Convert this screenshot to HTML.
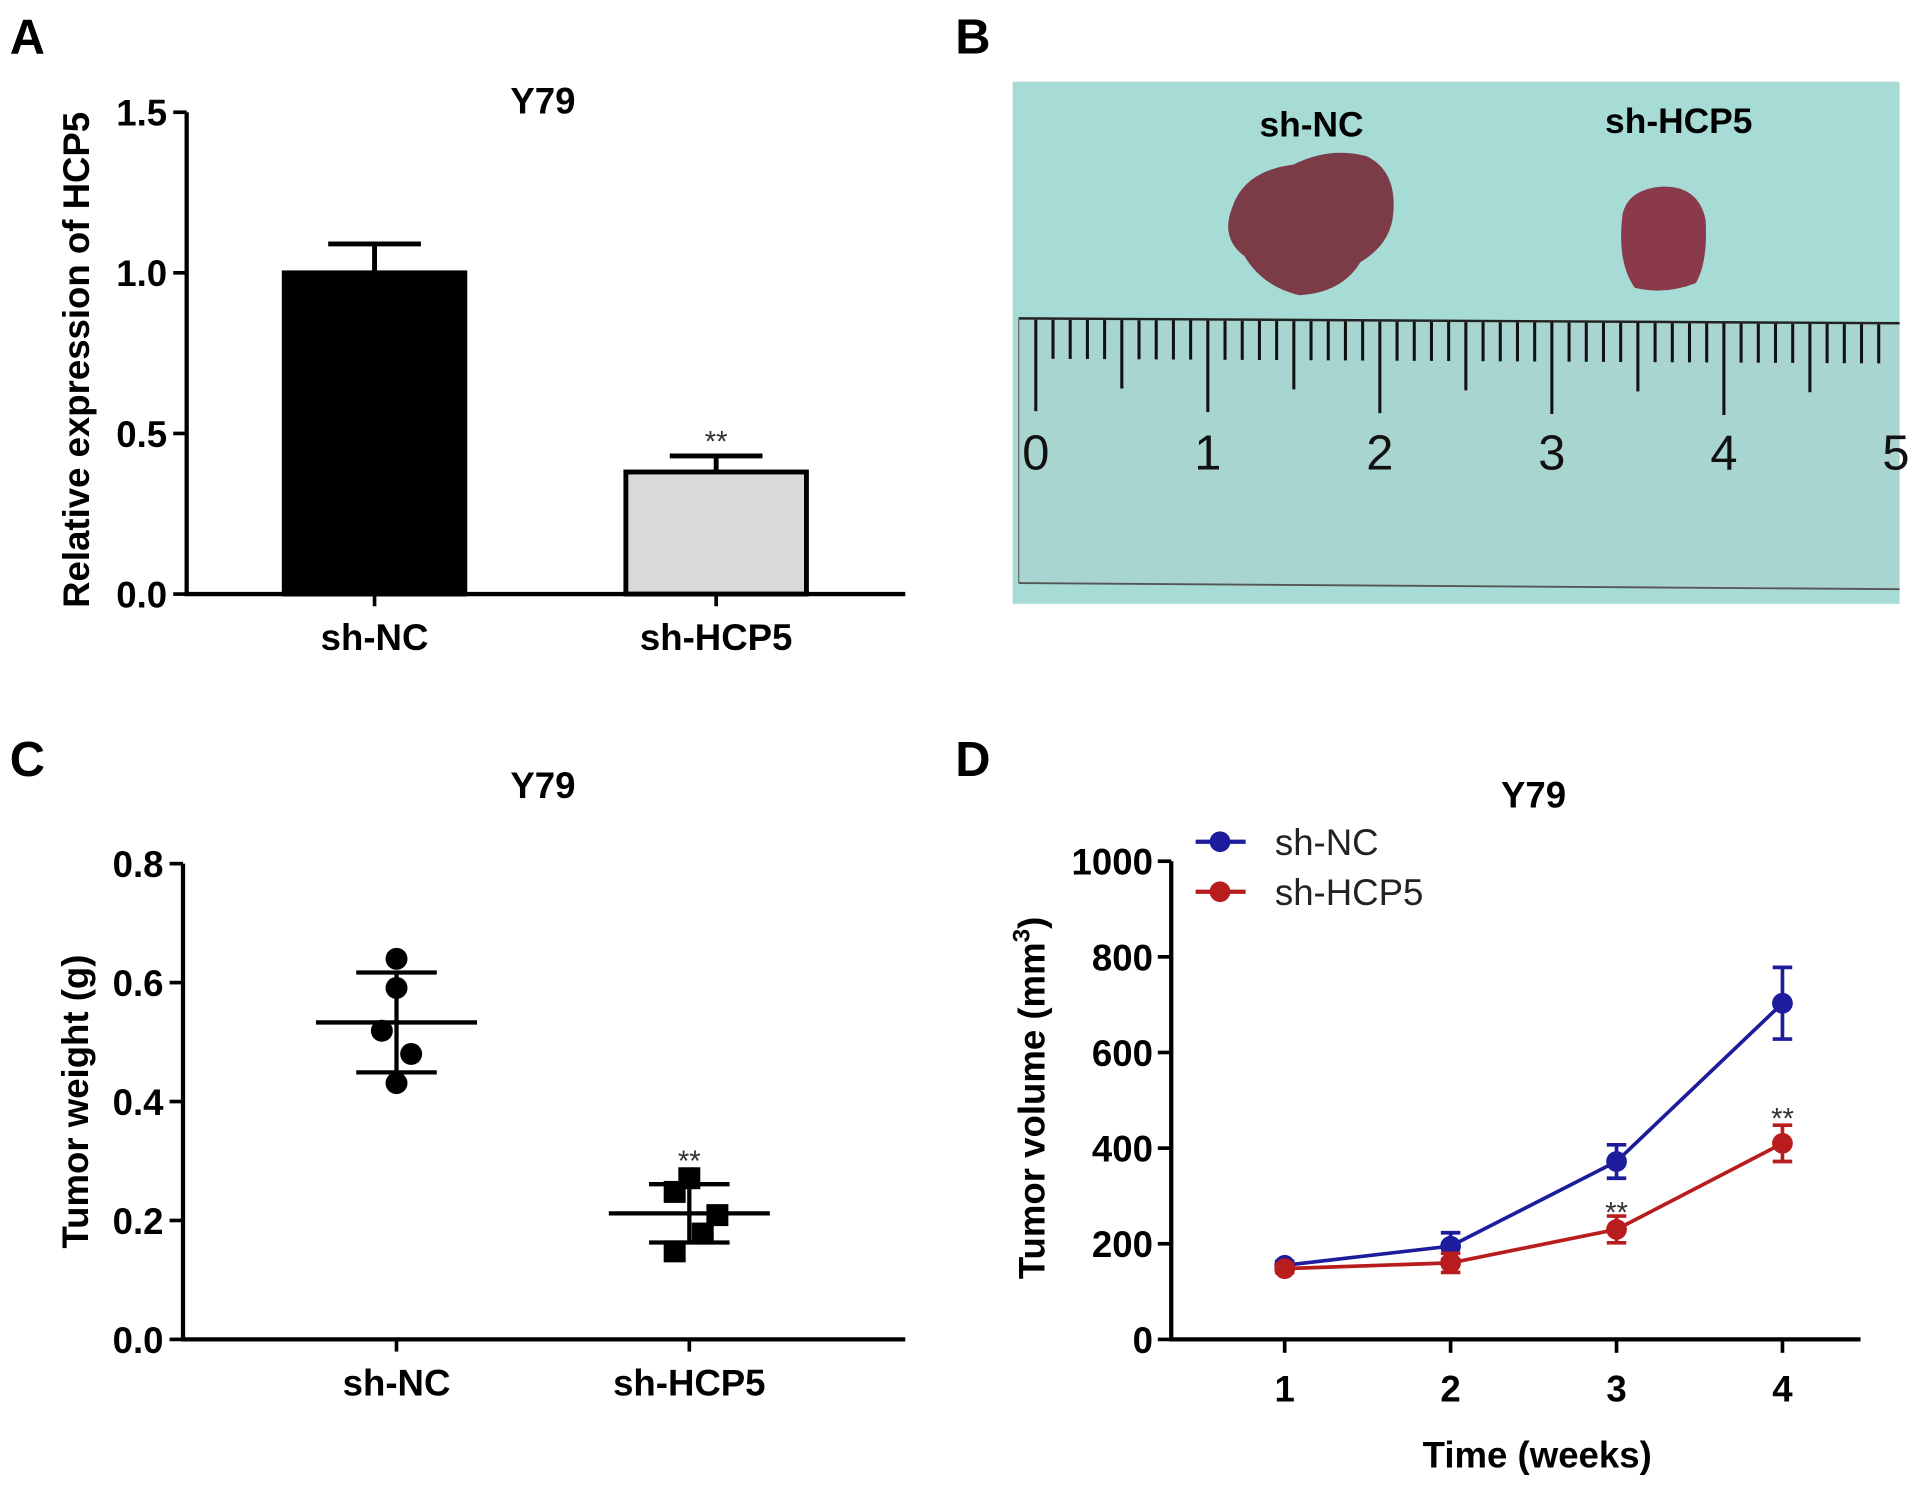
<!DOCTYPE html>
<html><head><meta charset="utf-8">
<style>
html,body{margin:0;padding:0;background:#fff;}
svg{display:block;}
text{font-family:"Liberation Sans",Arial,sans-serif;}
</style></head>
<body>
<svg id="fig" width="1913" height="1487" viewBox="0 0 1568 1219" preserveAspectRatio="none" xmlns="http://www.w3.org/2000/svg">
<text x="8" y="44" font-size="40" font-weight="bold">A</text>
<text x="783" y="44" font-size="40" font-weight="bold">B</text>
<text x="8" y="636" font-size="40" font-weight="bold">C</text>
<text x="783" y="636" font-size="40" font-weight="bold">D</text>

<g>
  <rect x="830" y="67" width="727" height="428" fill="#a7dcd6"/>
  <polygon points="835,260 1557,265 1557,483 835,478" fill="#a9d5d1"/>
  <line x1="835" y1="261" x2="1557" y2="265" stroke="#222" stroke-width="2"/>
  <line x1="835" y1="478" x2="1557" y2="483" stroke="#555" stroke-width="1.5"/>
  <line x1="835" y1="261" x2="835" y2="478" stroke="#666" stroke-width="1"/>
  <g id="ruler-ticks" stroke="#111" stroke-width="2.5"></g>
  <g id="ruler-nums" font-size="40" fill="#111"></g>
  <path d="M1010,170 Q1020,140 1060,135 Q1090,120 1120,128 Q1145,140 1142,175 Q1140,200 1115,215 Q1100,240 1065,242 Q1035,235 1020,210 Q1000,195 1010,170Z" fill="#7b3b47"/>
  <path d="M1330,175 Q1335,155 1362,153 Q1392,152 1398,180 Q1400,215 1390,232 Q1365,242 1340,236 Q1325,215 1330,175Z" fill="#8a3a4b"/>
  <text x="1075" y="112" font-size="29" font-weight="bold" text-anchor="middle">sh-NC</text>
  <text x="1376" y="109" font-size="29" font-weight="bold" text-anchor="middle">sh-HCP5</text>
</g>

<g id="panelA"></g>
<g id="panelC"></g>
<g id="panelD"></g>
</svg>
<script>
const aCategories = ["sh-NC", "sh-HCP5"];
const aValues = [1.0, 0.38];
const aErrors = [0.09, 0.05];
const aTicks = ["0.0", "0.5", "1.0", "1.5"];
const cCategories = ["sh-NC", "sh-HCP5"];
const cPointsNC = [0.64, 0.591, 0.519, 0.48, 0.431];
const cPointsHCP5 = [0.271, 0.248, 0.209, 0.178, 0.148];
const cMeans = [0.533, 0.212];
const cSDs = [0.084, 0.049];
const cTicks = ["0.0", "0.2", "0.4", "0.6", "0.8"];
const dWeeks = [1, 2, 3, 4];
const dNC = [155, 195, 372, 703];
const dNCErr = [8, 28, 35, 75];
const dHCP5 = [148, 160, 230, 410];
const dHCP5Err = [8, 20, 28, 38];
const dTicks = ["0", "200", "400", "600", "800", "1000"];
const rulerLabels = ["0", "1", "2", "3", "4", "5"];

const NS = "http://www.w3.org/2000/svg";
const FS = 30;
function mk(parent, tag, attrs, txt) {
  const e = document.createElementNS(NS, tag);
  for (const k in attrs) e.setAttribute(k, attrs[k]);
  if (txt !== undefined) e.textContent = txt;
  parent.appendChild(e);
  return e;
}

(function(){
  const g = document.getElementById('ruler-ticks');
  const ng = document.getElementById('ruler-nums');
  const x0 = 849, cm = 141;
  for (let i = 0; i <= 49; i++) {
    const x = x0 + i * cm / 10;
    const top = 262 + (x - 835) * 4 / 722;
    const len = i % 10 === 0 ? 75 : (i % 5 === 0 ? 56 : 32);
    const t = mk(g, 'line', {x1: x, y1: top, x2: x, y2: top + len});
    
    
  }
  rulerLabels.forEach((l, i) => {
    const t = mk(ng, 'text', {x: x0 + i * cm, y: 385, 'text-anchor': 'middle'}, l);
    
    
  });
})();

(function(){
  const g = document.getElementById('panelA');
  const y = v => 487 - v / 1.5 * 395;
  const cx = [307, 587], bw = 152;
  mk(g, 'text', {x: 445, y: 93, 'font-size': FS, 'font-weight': 'bold', 'text-anchor': 'middle'}, 'Y79');
  const yl = mk(g, 'text', {x: 0, y: 0, 'font-size': FS, 'font-weight': 'bold', 'text-anchor': 'middle', transform: 'translate(73,295) rotate(-90)'}, 'Relative expression of HCP5');
  
  
  aValues.forEach((v, i) => {
    const fill = i === 0 ? '#000' : '#d9d9d9';
    const eb = mk(g, 'path', {d: `M${cx[i]},${y(v)} V${y(v + aErrors[i])} M${cx[i]-38},${y(v + aErrors[i])} H${cx[i]+38}`, stroke: '#000', 'stroke-width': 4, fill: 'none'});
    
    
    const b = mk(g, 'rect', {x: cx[i] - bw/2 + 2, y: y(v), width: bw - 4, height: 487 - y(v), fill: fill, stroke: '#000', 'stroke-width': 4});
    
    
    mk(g, 'line', {x1: cx[i], y1: 487, x2: cx[i], y2: 497, stroke: '#000', 'stroke-width': 3});
    const xl = mk(g, 'text', {x: cx[i], y: 533, 'font-size': FS, 'font-weight': 'bold', 'text-anchor': 'middle'}, aCategories[i]);
    
    
  });
  mk(g, 'text', {x: 587, y: 370, 'font-size': 24, 'text-anchor': 'middle', fill: '#333'}, '**');
  mk(g, 'path', {d: 'M153,92 V487 H742', stroke: '#000', 'stroke-width': 3.5, fill: 'none'});
  aTicks.forEach(t => {
    const v = parseFloat(t);
    mk(g, 'line', {x1: 142, y1: y(v), x2: 153, y2: y(v), stroke: '#000', 'stroke-width': 3});
    const tl = mk(g, 'text', {x: 137, y: y(v) + 11, 'font-size': FS, 'font-weight': 'bold', 'text-anchor': 'end'}, t);
    
    
  });
})();

(function(){
  const g = document.getElementById('panelC');
  const y = v => 1098 - v / 0.8 * 390;
  const cx = [325, 565];
  const offNC = [0, 0, -12, 12, 0];
  const offH = [0, -12, 23, 11, -12];
  mk(g, 'text', {x: 445, y: 654, 'font-size': FS, 'font-weight': 'bold', 'text-anchor': 'middle'}, 'Y79');
  const yl = mk(g, 'text', {x: 0, y: 0, 'font-size': FS, 'font-weight': 'bold', 'text-anchor': 'middle', transform: 'translate(72,903) rotate(-90)'}, 'Tumor weight (g)');
  
  
  cPointsNC.forEach((v, i) => {
    const p = mk(g, 'circle', {cx: cx[0] + offNC[i], cy: y(v), r: 9, fill: '#000'});
    
    
  });
  cPointsHCP5.forEach((v, i) => {
    const p = mk(g, 'rect', {x: cx[1] + offH[i] - 9, y: y(v) - 9, width: 18, height: 18, fill: '#000'});
    
    
  });
  cMeans.forEach((m, i) => {
    const s = cSDs[i];
    const e = mk(g, 'path', {d: `M${cx[i]-66},${y(m)} H${cx[i]+66} M${cx[i]-33},${y(m+s)} H${cx[i]+33} M${cx[i]-33},${y(m-s)} H${cx[i]+33} M${cx[i]},${y(m+s)} V${y(m-s)}`, stroke: '#000', 'stroke-width': 3.5, fill: 'none'});
    
    
    mk(g, 'line', {x1: cx[i], y1: 1098, x2: cx[i], y2: 1108, stroke: '#000', 'stroke-width': 3});
    const xl = mk(g, 'text', {x: cx[i], y: 1144, 'font-size': FS, 'font-weight': 'bold', 'text-anchor': 'middle'}, cCategories[i]);
    
    
  });
  mk(g, 'text', {x: 565, y: 960, 'font-size': 24, 'text-anchor': 'middle', fill: '#333'}, '**');
  mk(g, 'path', {d: 'M150,708 V1098 H742', stroke: '#000', 'stroke-width': 3.5, fill: 'none'});
  cTicks.forEach(t => {
    const v = parseFloat(t);
    mk(g, 'line', {x1: 139, y1: y(v), x2: 150, y2: y(v), stroke: '#000', 'stroke-width': 3});
    const tl = mk(g, 'text', {x: 134, y: y(v) + 11, 'font-size': FS, 'font-weight': 'bold', 'text-anchor': 'end'}, t);
    
    
  });
})();

(function(){
  const g = document.getElementById('panelD');
  const y = v => 1098 - v / 1000 * 392;
  const x = w => 1053 + (w - 1) * 136;
  mk(g, 'text', {x: 1257, y: 662, 'font-size': FS, 'font-weight': 'bold', 'text-anchor': 'middle'}, 'Y79');
  const yl = mk(g, 'text', {x: 0, y: 0, 'font-size': FS, 'font-weight': 'bold', 'text-anchor': 'middle', transform: 'translate(856,900) rotate(-90)'});
  
  
  yl.innerHTML = 'Tumor volume (mm<tspan dy="-12" font-size="20">3</tspan><tspan dy="12">)</tspan>';
  const xt = mk(g, 'text', {x: 1260, y: 1203, 'font-size': FS, 'font-weight': 'bold', 'text-anchor': 'middle'}, 'Time (weeks)');
  
  
  function series(vals, errs, color, name) {
    const pl = mk(g, 'polyline', {points: vals.map((v, i) => x(dWeeks[i]) + ',' + y(v)).join(' '), fill: 'none', stroke: color, 'stroke-width': 3});
    
    
    vals.forEach((v, i) => {
      const cx = x(dWeeks[i]);
      const e = mk(g, 'path', {d: `M${cx},${y(v+errs[i])} V${y(v-errs[i])} M${cx-8},${y(v+errs[i])} H${cx+8} M${cx-8},${y(v-errs[i])} H${cx+8}`, stroke: color, 'stroke-width': 3, fill: 'none'});
      
      
      const c = mk(g, 'circle', {cx: cx, cy: y(v), r: 8.5, fill: color});
      
      
    });
  }
  series(dNC, dNCErr, '#1c1c9c', 'sh-nc');
  series(dHCP5, dHCP5Err, '#b81c1c', 'sh-hcp5');
  mk(g, 'text', {x: x(3), y: 1002, 'font-size': 24, 'text-anchor': 'middle', fill: '#333'}, '**');
  mk(g, 'text', {x: x(4), y: 925, 'font-size': 24, 'text-anchor': 'middle', fill: '#333'}, '**');
  mk(g, 'path', {d: 'M960,706 V1098 H1525', stroke: '#000', 'stroke-width': 3.5, fill: 'none'});
  dTicks.forEach(t => {
    const v = parseFloat(t);
    mk(g, 'line', {x1: 949, y1: y(v), x2: 960, y2: y(v), stroke: '#000', 'stroke-width': 3});
    const tl = mk(g, 'text', {x: 945, y: y(v) + 11, 'font-size': FS, 'font-weight': 'bold', 'text-anchor': 'end'}, t);
    
    
  });
  dWeeks.forEach(w => {
    mk(g, 'line', {x1: x(w), y1: 1098, x2: x(w), y2: 1109, stroke: '#000', 'stroke-width': 3});
    const tl = mk(g, 'text', {x: x(w), y: 1149, 'font-size': FS, 'font-weight': 'bold', 'text-anchor': 'middle'}, String(w));
    
    
  });
  const legend = [['sh-NC', '#1c1c9c', 690], ['sh-HCP5', '#b81c1c', 731]];
  legend.forEach(([l, c, ly]) => {
    const le = mk(g, 'g', {});
    
    
    mk(le, 'line', {x1: 980, y1: ly, x2: 1021, y2: ly, stroke: c, 'stroke-width': 3.5});
    mk(le, 'circle', {cx: 1000, cy: ly, r: 8.5, fill: c});
    mk(le, 'text', {x: 1045, y: ly + 11, 'font-size': FS, fill: '#222'}, l);
  });
})();
</script>
</body></html>
